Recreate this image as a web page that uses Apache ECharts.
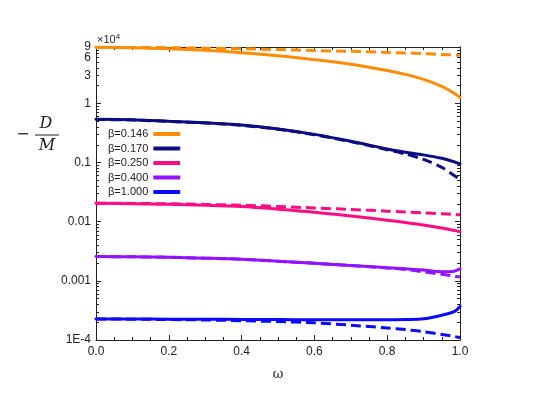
<!DOCTYPE html>
<html>
<head>
<meta charset="utf-8">
<script src="https://cdn.jsdelivr.net/npm/echarts@6/dist/echarts.min.js"></script>
<style>
html,body{margin:0;padding:0;background:#fff;}
#main{width:535px;height:410px;}
</style>
</head>
<body>
<div id="main"></div>
<script>
// omega grid shared by all curves
let omega = [0, 0.1, 0.2, 0.3, 0.4, 0.5, 0.6, 0.7, 0.8, 0.85, 0.9, 0.95, 0.98, 0.99, 1.0];

let betas = ['β=0.146', 'β=0.170', 'β=0.250', 'β=0.400', 'β=1.000'];
let colors = ['#ff8c05', '#0c0c82', '#ff0c82', '#9012ff', '#0a0aff'];

// -D/M values (solid and dashed curve for each beta)
let b146Solid = [8.9, 8.7, 8.4, 7.9, 7.2, 6.4, 5.5, 4.6, 3.6, 3.1, 2.55, 1.94, 1.54, 1.4, 1.26];
let b146Dash  = [8.9, 8.85, 8.75, 8.6, 8.4, 8.15, 7.85, 7.6, 7.3, 7.15, 6.95, 6.75, 6.6, 6.55, 6.5];
let b170Solid = [0.54, 0.53, 0.50, 0.47, 0.43, 0.37, 0.30, 0.23, 0.17, 0.15, 0.135, 0.118, 0.105, 0.1, 0.095];
let b170Dash  = [0.535, 0.525, 0.497, 0.467, 0.427, 0.367, 0.296, 0.226, 0.165, 0.14, 0.113, 0.083, 0.063, 0.057, 0.051];
let b250Solid = [0.0205, 0.0202, 0.0197, 0.019, 0.018, 0.0163, 0.0145, 0.0125, 0.0106, 0.0097, 0.0088, 0.0078, 0.0072, 0.007, 0.0068];
let b250Dash  = [0.0206, 0.0204, 0.0201, 0.0196, 0.019, 0.0181, 0.0171, 0.0161, 0.0151, 0.0146, 0.0141, 0.0136, 0.0133, 0.0132, 0.0131];
let b400Solid = [0.00258, 0.00255, 0.0025, 0.00242, 0.00232, 0.00215, 0.00198, 0.00182, 0.00167, 0.0016, 0.00152, 0.00143, 0.00144, 0.0015, 0.0016];
let b400Dash  = [0.00258, 0.00255, 0.0025, 0.00242, 0.00232, 0.00215, 0.00198, 0.00182, 0.00165, 0.00156, 0.00142, 0.00129, 0.00121, 0.00118, 0.00116];
let b1000Solid = [0.000227, 0.000226, 0.000225, 0.000224, 0.000223, 0.000222, 0.00022, 0.00022, 0.00022, 0.000222, 0.000228, 0.000262, 0.000295, 0.00032, 0.00037];
let b1000Dash  = [0.000226, 0.000225, 0.000222, 0.000218, 0.000212, 0.000205, 0.000195, 0.000178, 0.00016, 0.00015, 0.000138, 0.000124, 0.000116, 0.000113, 0.00011];

let solids = [b146Solid, b170Solid, b250Solid, b400Solid, b1000Solid];
let dashes = [b146Dash, b170Dash, b250Dash, b400Dash, b1000Dash];

// y tick labels (real values): decades + 9 on one axis, 3 and 6 on the other
let yLabelVals = [0.0001, 0.001, 0.01, 0.1, 1, 9];
let yExtraLabelVals = [3, 6];

let yMin = -4, yMax = Math.log10(9);
let majorTicks = [-4, -3, -2, -1, 0];
let minorTicks = [];
for (let n = -4; n <= 0; n++) {
    for (let k = 2; k <= 9; k++) {
        let v = Math.log10(k) + n;
        if (v <= yMax + 1e-9) minorTicks.push(v);
    }
}

function fmtY(v) {
    let r = Math.pow(10, v);
    if (r < 0.0005) return '1E-4';
    return String(Math.round(r * 1e6) / 1e6);
}

let axisLine = {show: true, onZero: false, lineStyle: {color: '#222', width: 1}};
let labelFont = {color: '#222', fontSize: 12, fontFamily: 'Liberation Sans'};

function yAxisCfg(pos, ticks, len, labels) {
    return {
        type: 'value', position: pos, min: yMin, max: yMax,
        axisLine: axisLine, splitLine: {show: false},
        axisTick: {show: true, inside: true, length: len, customValues: ticks, lineStyle: {color: '#222'}},
        axisLabel: labels ? Object.assign({show: true, margin: 5, customValues: labels.map(v => Math.log10(v)), formatter: fmtY,
            showMaxLabel: true, showMinLabel: true, hideOverlap: false}, labelFont) : {show: false}
    };
}

function xAxisCfg(pos, labels) {
    return {
        type: 'value', position: pos, min: 0, max: 1, interval: 0.2,
        axisLine: axisLine, splitLine: {show: false},
        axisTick: {show: true, inside: true, length: 5, lineStyle: {color: '#222'}},
        minorTick: {show: true, splitNumber: 4, length: 3, lineStyle: {color: '#222'}},
        axisLabel: labels ? Object.assign({show: true, margin: 6, formatter: v => v.toFixed(1)}, labelFont) : {show: false},
        name: labels ? 'ω' : '', nameLocation: 'middle', nameGap: 28,
        nameTextStyle: {color: '#222', fontSize: 13, fontFamily: 'DejaVu Serif'}
    };
}

let series = [];
betas.forEach((name, i) => {
    series.push({
        name: name, type: 'line', smooth: 0.3, showSymbol: false,
        lineStyle: {color: colors[i], width: 3, cap: 'round'},
        itemStyle: {color: colors[i]},
        data: omega.map((w, j) => [w, Math.log10(solids[i][j])])
    });
    series.push({
        name: name + ' dashed', type: 'line', smooth: 0.3, showSymbol: false,
        lineStyle: {color: colors[i], width: 3, type: [10, 5]},
        itemStyle: {color: colors[i]},
        data: omega.map((w, j) => [w, Math.log10(dashes[i][j])])
    });
});

let myChart = echarts.init(document.getElementById('main'));
myChart.setOption({
    animation: false,
    backgroundColor: '#fff',
    grid: {left: 96, right: 75, top: 47, bottom: 70},
    xAxis: [xAxisCfg('bottom', true), xAxisCfg('top', false)],
    yAxis: [
        yAxisCfg('left', majorTicks, 5, yLabelVals),
        yAxisCfg('left', minorTicks, 3, yExtraLabelVals),
        yAxisCfg('right', majorTicks, 5, null),
        yAxisCfg('right', minorTicks, 3, null)
    ],
    legend: {
        data: betas, orient: 'vertical', left: 103, top: 123,
        align: 'right', icon: 'roundRect', itemWidth: 27, itemHeight: 4,
        itemGap: 2.5,
        textStyle: {color: '#222', fontSize: 11, lineHeight: 12, fontFamily: 'Liberation Sans'}
    },
    graphic: [
        {type: 'text', left: 97, top: 33, style: {
            text: '×10{s|4}', fill: '#222', font: '11px Liberation Sans',
            rich: {s: {fontSize: 8, verticalAlign: 'top', padding: [0, 0, 6, 0], fill: '#222'}}}},
        {type: 'text', x: 23, y: 135, style: {text: '−', fill: '#222', font: '16px DejaVu Serif', align: 'center', verticalAlign: 'middle'}},
        {type: 'text', x: 46, y: 124, style: {text: 'D', fill: '#222', font: 'italic 16px DejaVu Serif', align: 'center', verticalAlign: 'middle'}},
        {type: 'line', shape: {x1: 35, y1: 135, x2: 59, y2: 135}, style: {stroke: '#222', lineWidth: 1}},
        {type: 'text', x: 47, y: 146, style: {text: 'M', fill: '#222', font: 'italic 16px DejaVu Serif', align: 'center', verticalAlign: 'middle'}}
    ],
    series: series
});
</script>
</body>
</html>
